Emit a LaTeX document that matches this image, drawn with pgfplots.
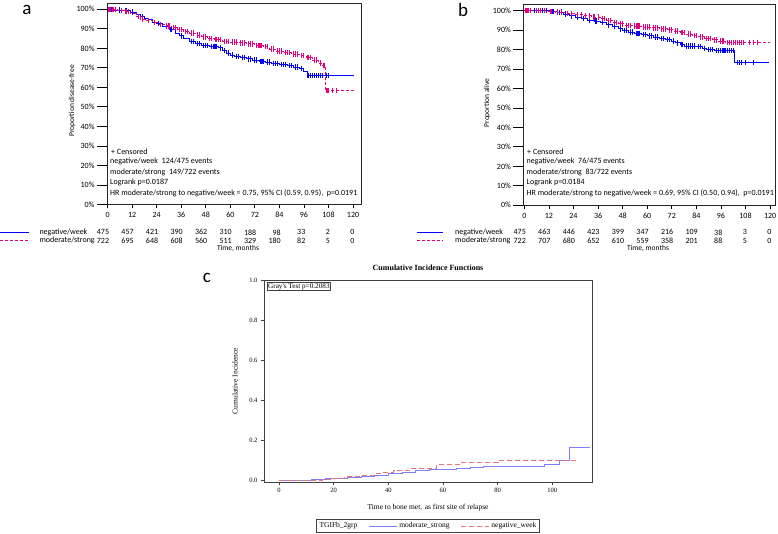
\documentclass[border=0pt]{standalone}
\usepackage{fontspec}
\setmainfont{Carlito}
\newfontfamily\timesf{Liberation Serif}
\usepackage{pgfplots}
\pgfplotsset{compat=1.18}
\definecolor{kmblue}{RGB}{0,0,255}
\definecolor{kmpink}{RGB}{228,0,124}
\definecolor{ciblue}{RGB}{125,125,255}
\definecolor{cired}{RGB}{232,120,120}
\newcommand{\rf}{\fontsize{8}{9}\selectfont}

\tikzset{pinkdash/.style={draw=kmpink, color=kmpink, line width=0.9pt, dash pattern=on 3pt off 2pt}}
\pgfplotsset{
  km/.style={scale only axis, anchor=south west, clip=false,
    axis line style={black!85, line width=0.8pt},
    tick align=outside, major tick length=4pt, tick style={black, line width=0.8pt},
    ytick style={/pgfplots/major tick length=10pt},
    yticklabel style={xshift=-5pt},
    xtick pos=bottom, ytick pos=left,
    xtick={0,12,...,120}, ytick={0,10,...,100},
    yticklabel={\pgfmathprintnumber{\tick}\%},
    /pgf/number format/assume math mode=true,
    tick label style={font=\rf}},
  censblue/.style={only marks, mark=|, mark size=2.7pt,
    mark options={solid, draw=kmblue, line width=1.1pt}},
  censpink/.style={only marks, mark=|, mark size=2.7pt,
    mark options={solid, draw=kmpink, line width=1.1pt}},
}

\begin{document}
\begin{tikzpicture}
\useasboundingbox (0pt,0pt) rectangle (778pt,533pt);

% ---------------- panel a ----------------
\begin{axis}[km, at={(107pt,328.5pt)}, width=254pt, height=201.2pt,
  xmin=-0.3, xmax=123.9, ymin=0, ymax=103.07]
\addplot[const plot, draw=kmblue, no markers, line width=0.9pt] coordinates {
 (0,100) (3,99.6) (8,99.2) (11,98.6) (14,97.5) (16,96.3) (18,95.4) (20,94.6) (22,93.3)
 (24,92.6) (27,91.2) (30,89.5) (33,87.8) (35,86.4) (37,85.0) (40,83.6) (43,82.5) (46,81.5)
 (50,81.0) (54,80.2) (56,79.0) (58,77.6) (60,76.6) (62,75.8) (65,75.2) (68,74.6) (71,74.0)
 (74,73.4) (77,72.9) (80,72.3) (84,71.6) (88,71.2) (91,70.4) (94,69.6) (96,68.4) (97.5,66.0)
 (120.3,66.0)};
\addplot[censblue] coordinates {
 (0.5,100) (1,100) (1.5,100) (2,100) (6,99.6) (9,99.2) (12,98.6) (17,96.3) (25,92.6) (31,89.5)
 (36,86.4) (41,83.6) (42,83.6) (44,82.5) (45,82.5) (47,81.5) (48,81.5) (49,81.5) (51,81.0)
 (52,81.0) (53,81.0) (55,80.2) (57,79.0) (59,77.6) (61,76.6) (63,75.8) (64,75.8) (66,75.2)
 (67,75.2) (69,74.6) (70,74.6) (72,74.0) (73,74.0) (75,73.4) (76,73.4) (78,72.9) (79,72.9)
 (81,72.3) (82,72.3) (83,72.3) (85,71.6) (86,71.6) (87,71.6) (89,71.2) (90,71.2) (92,70.4)
 (93,70.4) (95,69.6) (98,66) (99,66) (100,66) (101,66) (102,66) (103,66) (104,66) (105,66)
 (107,66) (108,66)};
\addplot[const plot, draw=kmpink, no markers, line width=0.9pt, dash pattern=on 3pt off 2pt] coordinates {
 (0,100) (5,99.5) (8,99.0) (11,97.8) (14,96.2) (16,95.0) (19,94.3) (22,93.3) (25,92.3)
 (28,91.5) (31,90.6) (34,89.6) (37,88.7) (40,87.8) (43,86.8) (46,85.9) (49,85.0) (52,84.4)
 (56,83.6) (60,83.2) (64,82.8) (68,82.3) (72,81.6) (76,80.8) (79,79.6) (82,78.6) (86,77.8)
 (90,77.0) (94,76.2) (97,75.3) (100,74.0) (103,72.5) (105,71.2) (106.4,58.3) (120.3,58.3)};
\addplot[censpink] coordinates {
 (0.5,100) (1,100) (1.5,100) (2.5,100) (3,100) (4,100) (7,99.5) (9,99) (10,99) (15,96.2)
 (17,95) (20,94.3) (23,93.3) (26,92.3) (29,91.5) (30,91.5) (32,90.6) (33,90.6) (35,89.6)
 (36,89.6) (38,88.7) (39,88.7) (41,87.8) (42,87.8) (44,86.8) (45,86.8) (47,85.9) (48,85.9)
 (50,85.0) (51,85.0) (53,84.4) (54,84.4) (55,84.4) (57,83.6) (58,83.6) (59,83.6) (61,83.2)
 (62,83.2) (63,83.2) (65,82.8) (66,82.8) (67,82.8) (69,82.3) (70,82.3) (71,82.3) (73,81.6)
 (74,81.6) (75,81.6) (77,80.8) (78,80.8) (80,79.6) (81,79.6) (83,78.6) (84,78.6) (85,78.6)
 (87,77.8) (88,77.8) (89,77.8) (91,77.0) (92,77.0) (93,77.0) (95,76.2) (96,76.2) (98,75.3)
 (99,75.3) (101,74.0) (102,74.0) (104,72.5) (105.5,71.2) (106,71.2) (107,58.3) (107.5,58.3)
 (108,58.3) (110,58.3) (112,58.3)};
\end{axis}

% ---------------- panel b ----------------
\begin{axis}[km, at={(523.3pt,327.7pt)}, width=251.7pt, height=201.3pt,
  xmin=-0.5, xmax=122.4, ymin=0, ymax=103.4]
\addplot[const plot, draw=kmblue, no markers, line width=0.9pt] coordinates {
 (0,100) (13,99.4) (16,99.0) (19,98.2) (22,97.3) (25,96.6) (28,95.8) (31,95.1) (34,94.6)
 (37,93.8) (40,92.7) (43,91.8) (46,90.6) (48,89.8) (51,89.0) (54,88.2) (57,87.6) (60,87.0)
 (63,86.4) (66,85.8) (69,85.1) (72,84.4) (74,83.4) (76,82.5) (78,81.8) (84,81.5) (87,80.6)
 (89,80.0) (93,79.4) (102.8,73.5) (119.5,73.5)};
\addplot[censblue] coordinates {
 (0.5,100) (1,100) (1.5,100) (2,100) (5,100) (6,100) (9,100) (10,100) (11,100) (14,99.4)
 (17,99) (20,98.2) (23,97.3) (26,96.6) (29,95.8) (32,95.1) (35,94.6) (38,93.8) (41,92.7)
 (44,91.8) (47,90.6) (49,89.8) (50,89.8) (52,89.0) (53,89.0) (55,88.2) (56,88.2) (58,87.6)
 (59,87.6) (61,87.0) (62,87.0) (64,86.4) (65,86.4) (67,85.8) (68,85.8) (70,85.1) (71,85.1)
 (73,84.4) (75,83.4) (77,82.5) (79,81.8) (80,81.8) (81,81.8) (82,81.8) (83,81.8) (85,81.5)
 (86,81.5) (88,80.6) (90,80.0) (91,80.0) (92,80.0) (94,79.4) (95,79.4) (96,79.4) (97,79.4)
 (98,79.4) (99,79.4) (100,79.4) (101,79.4) (102,79.4) (104,73.5) (105,73.5) (106,73.5)
 (108,73.5) (112,73.5)};
\addplot[const plot, draw=kmpink, no markers, line width=0.9pt, dash pattern=on 3pt off 2pt] coordinates {
 (0,100) (12,99.6) (15,99.2) (20,98.6) (25,98.0) (29,97.3) (33,96.7) (37,95.8) (40,95.0)
 (43,94.0) (46,93.2) (49,92.5) (53,92.0) (57,91.5) (62,91.1) (66,90.6) (70,90.1) (73,89.5)
 (76,88.7) (79,88.0) (82,87.2) (85,86.5) (88,85.8) (92,85.0) (95,84.3) (98,83.7) (120,83.7)};
\addplot[censpink] coordinates {
 (0.5,100) (1,100) (1.5,100) (2,100) (3,100) (6,100) (7,100) (8,100) (10,100) (13,99.6)
 (16,99.2) (18,99.2) (21,98.6) (23,98.6) (26,98) (28,98) (30,97.3) (32,97.3) (34,96.7)
 (36,96.7) (38,95.8) (39,95.8) (41,95) (42,95) (44,94) (45,94) (47,93.2) (48,93.2) (50,92.5)
 (51,92.5) (52,92.5) (54,92.0) (55,92.0) (56,92.0) (58,91.5) (59,91.5) (60,91.5) (61,91.5)
 (63,91.1) (64,91.1) (65,91.1) (67,90.6) (68,90.6) (69,90.6) (71,90.1) (72,90.1) (74,89.5)
 (75,89.5) (77,88.7) (78,88.7) (80,88) (81,88) (83,87.2) (84,87.2) (86,86.5) (87,86.5)
 (89,85.8) (90,85.8) (91,85.8) (93,85) (94,85) (96,84.3) (97,84.3) (99,83.7) (100,83.7)
 (101,83.7) (102,83.7) (103,83.7) (104,83.7) (105,83.7) (106,83.7) (107,83.7) (110,83.7)
 (112,83.7) (114,83.7)};
\end{axis}

% ---------------- panel c ----------------
\begin{axis}[scale only axis, anchor=south west, at={(264pt,51pt)}, width=328pt, height=202pt,
  xmin=-5.5, xmax=114.6, ymin=-0.008, ymax=1.003,
  xtick={0,20,...,100}, ytick={0,0.2,...,1.0},
  tick align=outside, major tick length=3pt, xtick pos=bottom, ytick pos=left,
  axis line style={black!75, line width=0.7pt}, tick style={black!75, line width=0.6pt},
  /pgf/number format/assume math mode=true,
  yticklabel style={/pgf/number format/.cd, fixed, fixed zerofill, precision=1},
  tick label style={font=\timesf\fontsize{6.5}{7}\selectfont},
  xlabel={Time to bone met. as first site of relapse},
  ylabel={Cumulative Incidence},
  label style={font=\timesf\fontsize{7.5}{8}\selectfont},
  xlabel style={at={(axis description cs:0.5,-0.129)}, anchor=center},
  ylabel style={at={(axis description cs:-0.088,0.5)}, anchor=center},
  legend style={at={(axis description cs:0.5,-0.218)}, anchor=center, legend columns=3,
    font=\timesf\fontsize{7.5}{8}\selectfont, draw=black!75, inner sep=1pt,
    /tikz/every even column/.append style={column sep=9pt}},
  legend image code/.code={\draw[#1] (0pt,0pt) -- (28pt,0pt);},
  ]
\addlegendimage{empty legend}
\addlegendentry{TGIFb\_2grp}
\addplot[const plot, color=ciblue, no markers, line width=0.8pt] coordinates {
 (0,0) (12,0.003) (17,0.008) (20,0.011) (25,0.015) (30,0.02) (35,0.027) (40,0.035)
 (45,0.042) (50,0.048) (55,0.053) (60,0.057) (65,0.06) (70,0.063) (75,0.068) (80,0.071)
 (97.3,0.08) (102.8,0.1) (106.4,0.165) (113.8,0.165)};
\addlegendentry{moderate\_strong}
\addplot[const plot, color=cired, no markers, line width=0.8pt, dash pattern=on 5pt off 3pt] coordinates {
 (0,0) (12,0.002) (16,0.006) (20,0.012) (24,0.02) (30,0.025) (35,0.033) (38,0.04) (42,0.05)
 (48,0.06) (55,0.062) (57.8,0.08) (66,0.088) (80.2,0.098) (108.6,0.098)};
\addlegendentry{negative\_week}
\node[draw=black!75, anchor=north west, inner sep=1pt, font=\timesf\fontsize{7.2}{8}\selectfont]
  at (rel axis cs:0.009,0.99) {Gray's Test p=0.2083};
\end{axis}

% ---------------- labels, risk tables and notes ----------------
\node[font=\fontsize{19}{20}\selectfont] at (27pt,523pt) {a};
\node[font=\fontsize{19}{20}\selectfont] at (463pt,523pt) {b};
\node[font=\fontsize{19}{20}\selectfont] at (207pt,255pt) {c};
\node[font=\timesf\bfseries\fontsize{8}{9}\selectfont] at (428pt,265pt) {Cumulative Incidence Functions};

\node[rotate=90, font=\fontsize{7.5}{8}\selectfont] at (72pt,432pt) {Proportion disease-free};
\node[rotate=90, font=\fontsize{7.5}{8}\selectfont] at (487pt,430pt) {Proportion alive};

\begin{scope}[every node/.style={anchor=west, inner sep=0pt, font=\rf}]
\node at (111pt,381pt) {+ Censored};
\node at (110pt,371.3pt) {negative/week\ \ 124/475 events};
\node at (110pt,361pt) {moderate/strong\ \ 149/722 events};
\node at (110pt,350.3pt) {Logrank p=0.0187};
\node at (110pt,339.7pt) {HR moderate/strong to negative/week = 0.75, 95\% CI (0.59, 0.95),\ \ p=0.0191};
\node at (527pt,381pt) {+ Censored};
\node at (526.5pt,371.3pt) {negative/week\ \ 76/475 events};
\node at (526.5pt,361pt) {moderate/strong\ \ 83/722 events};
\node at (526.5pt,350.3pt) {Logrank p=0.0184};
\node at (526.5pt,339.7pt) {HR moderate/strong to negative/week = 0.69, 95\% CI (0.50, 0.94),\ \ p=0.0191};
\node at (39.3pt,300.7pt) {negative/week};
\node at (39.3pt,292.3pt) {moderate/strong};
\node at (455pt,300.7pt) {negative/week};
\node at (455pt,292.3pt) {moderate/strong};
\end{scope}

\draw[kmblue, line width=0.9pt] (0pt,300.7pt) -- (29pt,300.7pt);
\draw[pinkdash] (0pt,292.3pt) -- (29pt,292.3pt);
\draw[kmblue, line width=0.9pt] (417pt,300.7pt) -- (443pt,300.7pt);
\draw[pinkdash] (417pt,292.3pt) -- (443pt,292.3pt);

\begin{scope}[every node/.style={anchor=east, inner sep=0pt, font=\rf}]
\foreach \t/\n in {0/475,12/457,24/421,36/390,48/362,60/310,72/188,84/98,96/33,108/2,120/0}
  \node at ({(109.3+2.044*\t)*1pt},300.7pt) {\n};
\foreach \t/\n in {0/722,12/695,24/648,36/608,48/560,60/511,72/329,84/180,96/82,108/5,120/0}
  \node at ({(109.3+2.044*\t)*1pt},292.3pt) {\n};
\foreach \t/\n in {0/475,12/463,24/446,36/423,48/399,60/347,72/216,84/109,96/38,108/3,120/0}
  \node at ({(526+2.047*\t)*1pt},300.7pt) {\n};
\foreach \t/\n in {0/722,12/707,24/680,36/652,48/610,60/559,72/358,84/201,96/88,108/5,120/0}
  \node at ({(526+2.047*\t)*1pt},292.3pt) {\n};
\end{scope}
\node[font=\fontsize{7.5}{8}\selectfont] at (238pt,285pt) {Time, months};
\node[font=\fontsize{7.5}{8}\selectfont] at (648pt,285pt) {Time, months};
\end{tikzpicture}
\end{document}
